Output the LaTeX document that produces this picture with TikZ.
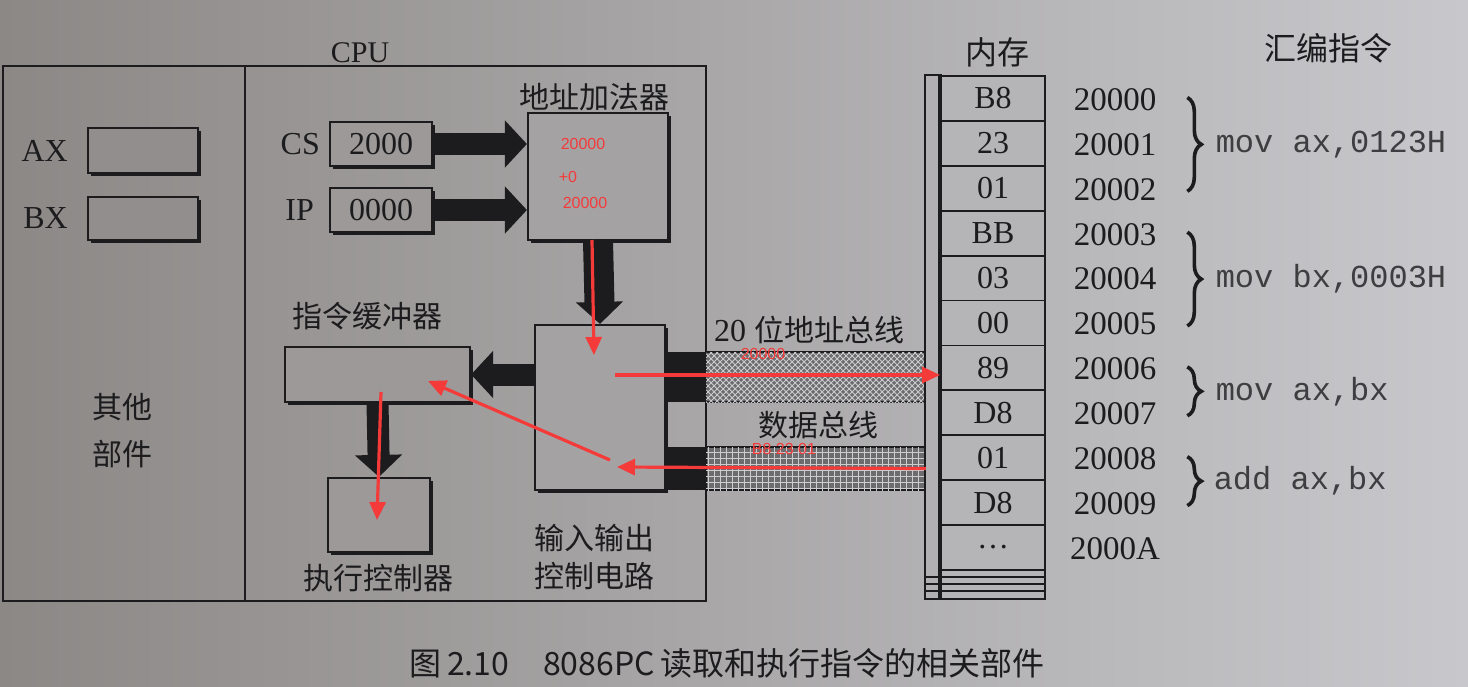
\documentclass[tikz,border=0pt]{standalone}
\usepackage{fontspec}
\setmainfont{Liberation Serif}
\newfontfamily\cjkfont{Noto Sans CJK SC}
\newfontfamily\asmfont{Liberation Mono}
\newfontfamily\notefont{Liberation Sans}
\usepackage{xcolor}
\definecolor{paperleft}{RGB}{140, 136, 134}
\definecolor{paperright}{RGB}{200, 200, 204}
\definecolor{inkdark}{RGB}{28, 28, 30}
\definecolor{busdark}{RGB}{108, 108, 110}
\definecolor{buslight}{RGB}{205, 205, 207}
\definecolor{notered}{RGB}{245, 58, 58}
\usepackage{tikz}
\usetikzlibrary{positioning, calc, arrows.meta, shadows, patterns, fit, decorations.pathreplacing}

\begin{document}
\begin{tikzpicture}[x=0.5pt, y=-0.5pt,
    regbox/.style={draw=inkdark, line width=1.1pt, inner sep=0pt,
        drop shadow={shadow xshift=1.5pt, shadow yshift=-1.5pt, fill=inkdark, opacity=1}},
    cell/.style={draw=inkdark, line width=0.9pt, inner sep=0pt, fill=paperright!68!paperleft},
    cjklabel/.style={font=\cjkfont\fontsize{15}{18}\selectfont, text=inkdark},
    serlabel/.style={font=\fontsize{16}{18}\selectfont, text=inkdark},
    notelabel/.style={font=\notefont\fontsize{8}{9}\selectfont, text=notered},
    fatarrow/.style={draw=inkdark, line width=#1, -{Triangle[length=11pt, width=23pt]}},
    fatarrow/.default=11pt,
    notearrow/.style={draw=notered, line width=1.6pt, -{Triangle[length=9pt, width=8pt]}},
    bus/.style={draw=inkdark, line width=0.9pt, inner sep=0pt, fill=busdark,
        postaction={pattern=#1, pattern color=buslight}},
    port/.style={fill=inkdark, inner sep=0pt},
    instrbrace/.style={draw=inkdark, line width=1.8pt, decorate, decoration={brace, amplitude=7pt}},
    instr/.style={font=\asmfont\fontsize{16}{18}\selectfont, text=inkdark!80!paperright}]

    % Paper
    \shade[left color=paperleft, right color=paperright] (0,0) rectangle (1468,686);
    \useasboundingbox (0,0) rectangle (1468,686);

    % Frames: other parts | CPU
    \node[draw=inkdark, line width=1.1pt, inner sep=0pt, fit={(3,66) (245,601)}] (other) {};
    \node[draw=inkdark, line width=1.1pt, inner sep=0pt, fit={(245,66) (706,601)}] (cpu) {};
    \node[serlabel, font=\fontsize{15}{18}\selectfont] (cpulabel) at (360,53) {CPU};

    % Registers AX, BX
    \node[regbox, fill=paperright!10!paperleft, fit={(88,128) (198,173)}] (ax) {};
    \node[regbox, fill=paperright!10!paperleft, fit={(88,197) (198,240)}] (bx) {};
    \node[serlabel, left=6pt of ax] (axlabel) {AX};
    \node[serlabel, left=6pt of bx] (bxlabel) {BX};
    \node[cjklabel, align=center] (othertext) at (122,431) {其他\\[5.5pt]部件};

    % CS, IP and the address adder
    \node[regbox, fill=paperright!26!paperleft, fit={(330,122) (432,166)}] (cs) {};
    \node[regbox, fill=paperright!26!paperleft, fit={(330,188) (432,232)}] (ip) {};
    \node[serlabel] (csval) at (cs.center) {2000};
    \node[serlabel] (ipval) at (ip.center) {0000};
    \node[serlabel, left=1pt of cs] (cslabel) {CS};
    \node[serlabel, left=4pt of ip] (iplabel) {IP};
    \node[regbox, fill=paperright!41!paperleft, fit={(528,113) (668,240)}] (adder) {};
    \node[cjklabel] (adderlabel) at (594,97) {地址加法器};

    % Buffer, execution control, I/O circuit
    \node[regbox, fill=paperright!26!paperleft, fit={(285,347) (470,402)}] (buffer) {};
    \node[cjklabel] (bufferlabel) at (367,316) {指令缓冲器};
    \node[regbox, fill=paperright!26!paperleft, fit={(328,478) (430,552)}] (exec) {};
    \node[cjklabel] (execlabel) at (378,578) {执行控制器};
    \node[regbox, fill=paperright!41!paperleft, fit={(535,325) (665,490)}] (io) {};
    \node[cjklabel, align=center] (iolabel) at (594,557) {输入输出\\[1pt]控制电路};

    % Fat data paths
    \draw[fatarrow] (cs.east) -- (cs.east -| adder.west);
    \draw[fatarrow] (ip.east) -- (ip.east -| adder.west);
    \draw[fatarrow=15pt] (adder.south) -- (io.north);
    \draw[fatarrow] (io.west |- buffer.east) -- (buffer.east);
    \draw[fatarrow] (buffer.south) -- (exec.north);

    % Buses
    \node[port, fit={(665,352) (706,402)}] (addrport) {};
    \node[port, fit={(665,447) (706,490)}] (dataport) {};
    \node[bus=crosshatch, fit={(706,352) (935,402)}] (addrbus) {};
    \node[bus=grid, fit={(706,447) (935,490)}] (databus) {};
    \node[serlabel] (addrbuslabel) at (809,330) {20 {\cjkfont\fontsize{15}{18}\selectfont 位地址总线}};
    \node[cjklabel] (databuslabel) at (818,425) {数据总线};

    % Memory
    \node[cjklabel, font=\cjkfont\fontsize{16}{18}\selectfont] (memlabel) at (997,52) {内存};
    \node[draw=inkdark, line width=0.8pt, inner sep=0pt, fill=paperright!63!paperleft,
        fit={(925,75) (939,599)}] (strip) {};
    \foreach \val [count=\i from 0] in {B8,23,01,BB,03,00,89,D8,01,D8,\dots} {
        \node[cell, fit={(941,76+44.9*\i) (1045,76+44.9*\i+44.9)}] (m\i) {};
        \node[serlabel] (v\i) at (m\i.center) {\val};
    }
    \node[cell, fit={(941,570) (1045,599)}] (memtail) {};
    \foreach \yy in {577,584,591} {
        \draw[inkdark, line width=0.8pt] (925,\yy) -- (1045,\yy);
    }
    \draw[inkdark, line width=2.2pt] (strip.north east) -- (strip.south east);

    % Addresses
    \foreach \adr [count=\i from 0] in {20000,20001,20002,20003,20004,20005,20006,20007,20008,20009,2000A} {
        \node[serlabel, font=\fontsize{16.5}{18}\selectfont] (a\i) at (1115,99.5+44.9*\i) {\adr};
    }

    % Assembly instructions
    \node[cjklabel, font=\cjkfont\fontsize{16}{18}\selectfont] (asmlabel) at (1328,48) {汇编指令};
    \draw[instrbrace] ([shift={(12pt,1pt)}]a0.east) -- ([shift={(12pt,-1pt)}]a2.east)
        node[instr, midway, right=10pt] (i0) {mov ax,0123H};
    \draw[instrbrace] ([shift={(12pt,1pt)}]a3.east) -- ([shift={(12pt,-1pt)}]a5.east)
        node[instr, midway, right=10pt] (i1) {mov bx,0003H};
    \draw[instrbrace] ([shift={(12pt,1pt)}]a6.east) -- ([shift={(12pt,-1pt)}]a7.east)
        node[instr, midway, right=10pt] (i2) {mov ax,bx};
    \draw[instrbrace] ([shift={(12pt,1pt)}]a8.east) -- ([shift={(12pt,-1pt)}]a9.east)
        node[instr, midway, right=9pt] (i3) {add ax,bx};

    % Red notes
    \node[notelabel] (sum1) at (583,144) {20000};
    \node[notelabel] (sum2) at (568,177) {+0};
    \node[notelabel] (sum3) at (585,203) {20000};
    \node[notelabel] (addrval) at (763,354) {20000};
    \node[notelabel] (dataval) at (784,449) {B8 23 01};
    \coordinate (addtail) at (592,240);
    \coordinate (addhead) at (594,355);
    \coordinate (addrtail) at (615,375);
    \coordinate (datahead) at (617,467);
    \coordinate (difftail) at (610,460);
    \coordinate (diffhead) at (428,381);
    \coordinate (exectail) at (381,392);
    \coordinate (exechead) at (377,520);
    \draw[notearrow] (addtail) -- (addhead);
    \draw[notearrow] (addrtail) -- (addrtail -| m6.west);
    \draw[notearrow] ([xshift=-5pt]databus.east) -- (datahead);
    \draw[notearrow] (difftail) -- (diffhead);
    \draw[notearrow] (exectail) -- (exechead);

    % Caption
    \node[cjklabel, font=\cjkfont\fontsize{16}{18}\selectfont] (caption) at (727,663)
        {图\hspace{3pt}2.10\hspace{17pt}8086PC\hspace{3pt}读取和执行指令的相关部件};
\end{tikzpicture}
\end{document}
